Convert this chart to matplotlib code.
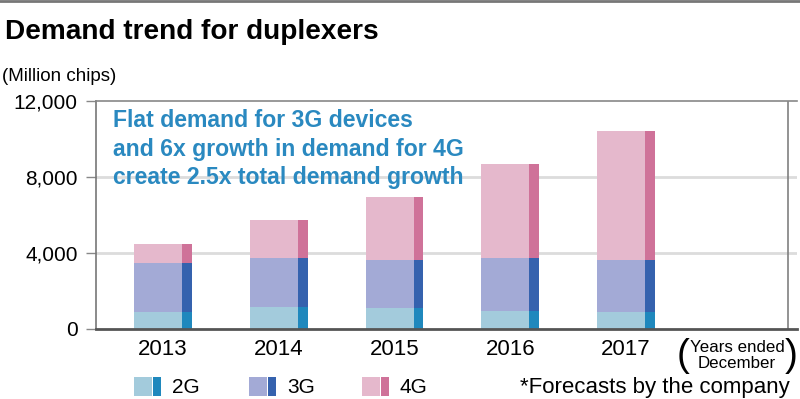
import numpy as np
import matplotlib.pyplot as plt
from matplotlib.patches import Rectangle

# values (million chips)
years = ['2013', '2014', '2015', '2016', '2017']
demand_2g = [900, 1150, 1100, 950, 900]
demand_3g = [2570, 2590, 2530, 2790, 2730]
demand_4g = [1000, 2000, 3320, 4940, 6790]
y_ticks = [0, 4000, 8000, 12000]
series_names = ['2G', '3G', '4G']
note_lines = ['Flat demand for 3G devices',
              'and 6x growth in demand for 4G',
              'create 2.5x total demand growth']

front_colors = ['#a3cbdc', '#a3aad6', '#e5b8cc']
side_colors = ['#1f88bd', '#3562ae', '#cf7299']
note_blue = '#2a89c0'

plain = ['Liberation Sans', 'DejaVu Sans']

W, H = 800, 399
fig = plt.figure(figsize=(W / 100, H / 100), dpi=100)


def fx(px):
    return px / W


def fy(py):
    return 1 - py / H


ax = fig.add_axes([fx(96), fy(329), fx(797 - 96), (329 - 101) / H])

x = np.arange(len(years))
front_w = 0.415
side_w = 0.085
left = x - (front_w + side_w) / 2

bottom = np.zeros(len(years))
for vals, fc, sc in zip([demand_2g, demand_3g, demand_4g], front_colors, side_colors):
    vals = np.array(vals, dtype=float)
    ax.bar(left, vals, width=front_w, bottom=bottom, align='edge', color=fc,
           linewidth=0, zorder=3)
    ax.bar(left + front_w, vals, width=side_w, bottom=bottom, align='edge',
           color=sc, linewidth=0, zorder=3)
    bottom += vals

ax.set_xlim(-0.579, 5.477)
ax.set_ylim(0, 12000)

# grid lines
for t in y_ticks[1:-1]:
    ax.axhline(t, color='#dcdcdc', lw=2, zorder=1)
ax.axvline(5.40, color='#808080', lw=1.2, zorder=2)

ax.spines['right'].set_visible(False)
ax.spines['top'].set_color('#888888')
ax.spines['top'].set_linewidth(1.2)
ax.spines['left'].set_color('#777777')
ax.spines['left'].set_linewidth(1.2)
ax.spines['bottom'].set_color('#555555')
ax.spines['bottom'].set_linewidth(2)
ax.spines['bottom'].set_zorder(4)

ax.set_yticks(y_ticks)
ax.set_yticklabels([f'{t:,}' for t in y_ticks], family=plain, fontsize=15)
ax.tick_params(axis='y', length=7.2, width=1, color='#888888', pad=6)
ax.set_xticks(x)
ax.set_xticklabels(years, family=plain, fontsize=16)
ax.tick_params(axis='x', length=0, pad=7)

# headline and notes
fig.add_artist(plt.Line2D([0, 1], [fy(1), fy(1)], color='#777777', lw=2))
fig.text(fx(5), fy(39), 'Demand trend for duplexers', family=plain,
         fontweight='bold', fontsize=20.2, va='baseline', ha='left')
fig.text(fx(2), fy(81), '(Million chips)', family=plain, fontsize=13.5,
         va='baseline', ha='left')
for line, base in zip(note_lines, [127, 156, 184]):
    fig.text(fx(113), fy(base), line, family=plain, fontweight='bold',
             fontsize=16.6, color=note_blue, va='baseline', ha='left', zorder=5)

fig.text(fx(737), fy(352), 'Years ended', family=plain, fontsize=12.2,
         ha='center', va='baseline')
fig.text(fx(737), fy(368), 'December', family=plain, fontsize=12.2,
         ha='center', va='baseline')
fig.text(fx(677), fy(356), '(', family=plain, fontsize=28, ha='left',
         va='center')
fig.text(fx(798), fy(356), ')', family=plain, fontsize=28, ha='right',
         va='center')

fig.text(fx(790), fy(393), '*Forecasts by the company', family=plain,
         fontsize=16, ha='right', va='baseline')

# legend keys
key_x = [134, 249, 362]
for kx, name, fc, sc in zip(key_x, series_names, front_colors, side_colors):
    fig.add_artist(Rectangle((fx(kx), fy(396)), fx(18), 19 / H,
                             transform=fig.transFigure, color=fc, lw=0))
    fig.add_artist(Rectangle((fx(kx + 19), fy(396)), fx(8), 19 / H,
                             transform=fig.transFigure, color=sc, lw=0))
    fig.text(fx(kx + 38), fy(393), name, family=plain, fontsize=15,
             ha='left', va='baseline')

fig.savefig('out.png', dpi=100)
